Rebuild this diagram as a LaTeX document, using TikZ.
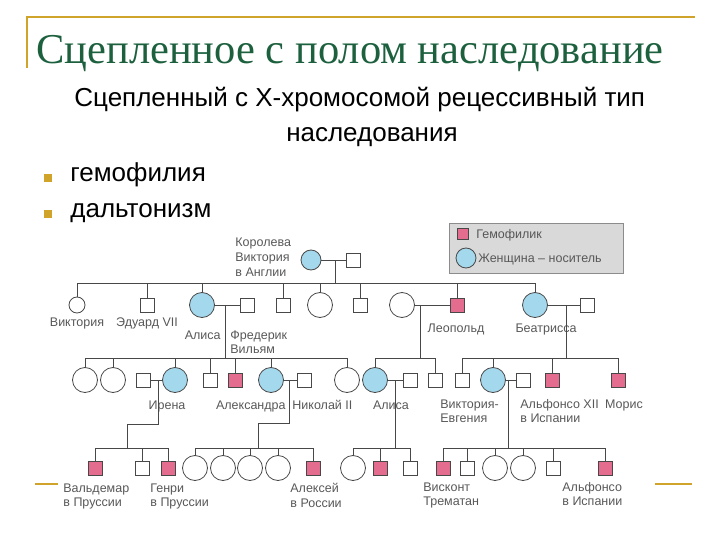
\documentclass[tikz,border=0pt]{standalone}
\usepackage{fontspec}
\setmainfont{Liberation Sans}
\newfontfamily\ttlfont{Liberation Serif}
\definecolor{ttl}{RGB}{28,96,62}
\definecolor{gold}{RGB}{208,164,42}
\definecolor{lin}{RGB}{72,72,72}
\definecolor{txt}{RGB}{88,88,88}
\definecolor{hem}{RGB}{228,108,142}
\definecolor{car}{RGB}{164,216,236}

\begin{document}
\begin{tikzpicture}[x=1pt,y=-1pt,line width=0.8pt,
  man/.style={draw=lin,fill=white,minimum size=14pt,inner sep=0pt},
  hemo/.style={man,fill=hem},
  woman/.style={circle,draw=lin,fill=white,minimum size=25pt,inner sep=0pt},
  carr/.style={woman,fill=car},
  lbl/.style={text=txt,font=\fontsize{12.5}{14.5}\selectfont,inner sep=0pt,align=left},
  big/.style={font=\fontsize{26}{35}\selectfont,inner sep=0pt,anchor=base west},
  rel/.style={draw=lin}]
\useasboundingbox (0,0) rectangle (720,540);
\draw[gold,line width=1.5pt] (27,68) -- (27,17) -- (695,17);
\draw[gold,line width=1.5pt] (35,484) -- (58,484);
\draw[gold,line width=1.5pt] (655,484) -- (692,484);

\node[anchor=base west,text=ttl,font=\ttlfont\fontsize{42.5}{42.5}\selectfont,inner sep=0pt] (title) at (36,64) {Сцепленное с полом наследование};
\node[big] (sub1) at (74,107) {Сцепленный с Х-хромосомой рецессивный тип};
\node[big,anchor=base] (sub2) at (372,142) {наследования};
\node[fill=gold,minimum size=8pt,inner sep=0pt] (bul1) at (48,178) {};
\node[big] (hemoph) at (70,182) {гемофилия};
\node[fill=gold,minimum size=8pt,inner sep=0pt] (bul2) at (48,214) {};
\node[big] (dalt) at (70,218) {дальтонизм};

\node[draw=black!45,fill=black!15,minimum width=174pt,minimum height=50pt,inner sep=0pt] (leg) at (536,248) {};
\node[hemo,minimum size=11pt] (leghem) at (463,234) {};
\node[lbl,anchor=west] (leghemt) at (476,235) {Гемофилик};
\node[carr,minimum size=20pt] (legcar) at (466,258) {};
\node[lbl,anchor=west] (legcart) at (478,259) {Женщина – носитель};

\node[carr,minimum size=20pt] (qv) at (311,260) {};
\node[man] (qa) at (353,260) {};
\node[lbl,anchor=north west] (qvt) at (235,238) {Королева\\Виктория\\в Англии};
\draw[rel] (qv) -- (qa);
\coordinate (m0) at (335,260);
\coordinate (s0) at (335,283);
\draw[rel] (m0) -- (s0);

\node[woman,minimum size=16pt] (vik) at (77,305) {};
\node[man] (edw) at (147,305) {};
\node[carr] (ali) at (202,305) {};
\node[man] (fri) at (247,305) {};
\node[man] (a4) at (283,305) {};
\node[woman] (a5) at (320,305) {};
\node[man] (a6) at (360,305) {};
\node[woman] (lw) at (402,305) {};
\node[hemo] (leo) at (457,305) {};
\node[carr] (bea) at (535,305) {};
\node[man] (bh) at (587,305) {};
\draw[rel] (vik.north |- s0) -- (bea.north |- s0);
\foreach \c in {vik,edw,ali,a4,a5,a6,leo,bea}
  \draw[rel] (\c.north |- s0) -- (\c.north);
\draw[rel] (ali) -- (fri);
\draw[rel] (lw) -- (leo);
\draw[rel] (bea) -- (bh);
\node[lbl,anchor=north] (vikt) at (77,317) {Виктория};
\node[lbl,anchor=north] (edwt) at (147,317) {Эдуард VII};
\node[lbl,anchor=north east] (alit) at (221,330) {Алиса};
\node[lbl,anchor=north west,font=\fontsize{12.5}{14}\selectfont] (frit) at (230,330) {Фредерик\\Вильям};
\node[lbl,anchor=north] (leot) at (456,323) {Леопольд};
\node[lbl,anchor=north] (beat) at (546,323) {Беатрисса};

\coordinate (m1) at (225,305);
\coordinate (s1) at (225,358);
\coordinate (m2) at (420,305);
\coordinate (s2) at (420,358);
\coordinate (m3) at (566,305);
\coordinate (s3) at (566,358);
\draw[rel] (m1) -- (s1);
\draw[rel] (m2) -- (s2);
\draw[rel] (m3) -- (s3);

\node[woman] (c1) at (85,380) {};
\node[woman] (c2) at (113,380) {};
\node[man] (ireh) at (143,380) {};
\node[carr] (ire) at (175,380) {};
\node[man] (c4) at (210,380) {};
\node[hemo] (c5) at (235,380) {};
\node[carr] (alx) at (271,380) {};
\node[man] (nik) at (304,380) {};
\node[woman] (c7) at (347,380) {};
\node[carr] (al2) at (375,380) {};
\node[man] (al2h) at (410,380) {};
\node[man] (l2) at (435,380) {};
\node[man] (b1) at (462,380) {};
\node[carr] (ve) at (493,380) {};
\node[man] (alf) at (523,380) {};
\node[hemo] (b3) at (552,380) {};
\node[hemo] (mor) at (618,380) {};
\draw[rel] (c1.north |- s1) -- (c7.north |- s1);
\foreach \c in {c1,c2,ire,c4,c5,alx,c7}
  \draw[rel] (\c.north |- s1) -- (\c.north);
\draw[rel] (al2.north |- s2) -- (l2.north |- s2);
\foreach \c in {al2,l2}
  \draw[rel] (\c.north |- s2) -- (\c.north);
\draw[rel] (b1.north |- s3) -- (mor.north |- s3);
\foreach \c in {b1,ve,b3,mor}
  \draw[rel] (\c.north |- s3) -- (\c.north);
\draw[rel] (ireh) -- (ire);
\draw[rel] (alx) -- (nik);
\draw[rel] (al2) -- (al2h);
\draw[rel] (ve) -- (alf);
\node[lbl,anchor=north] (iret) at (167,400) {Ирена};
\node[lbl,anchor=north east] (alxt) at (286,400) {Александра};
\node[lbl,anchor=north west] (nikt) at (292,400) {Николай II};
\node[lbl,anchor=north] (al2t) at (391,400) {Алиса};
\node[lbl,anchor=north west] (vet) at (440,399) {Виктория-\\Евгения};
\node[lbl,anchor=north west] (alft) at (520,399) {Альфонсо XII\\в Испании};
\node[lbl,anchor=north] (mort) at (624,399) {Морис};

\coordinate (m4) at (158,380);
\coordinate (s4) at (127,448);
\coordinate (m5) at (289,380);
\coordinate (s5) at (258,448);
\coordinate (m6) at (395,380);
\coordinate (s6) at (395,448);
\coordinate (m7) at (508,380);
\coordinate (s7) at (508,448);
\draw[rel] (m4) -- ++(0,44) -| (s4);
\draw[rel] (m5) -- ++(0,43) -| (s5);
\draw[rel] (m6) -- (s6);
\draw[rel] (m7) -- (s7);

\node[hemo] (wal) at (95,468) {};
\node[man] (i2) at (142,468) {};
\node[hemo] (gen) at (168,468) {};
\node[woman] (d1) at (195,468) {};
\node[woman] (d2) at (223,468) {};
\node[woman] (d3) at (250,468) {};
\node[woman] (d4) at (278,468) {};
\node[hemo] (alk) at (313,468) {};
\node[woman] (e1) at (353,468) {};
\node[hemo] (e2) at (380,468) {};
\node[man] (e3) at (410,468) {};
\node[hemo] (vis) at (443,468) {};
\node[man] (v2) at (467,468) {};
\node[woman] (v3) at (495,468) {};
\node[woman] (v4) at (523,468) {};
\node[man] (v5) at (553,468) {};
\node[hemo] (alf2) at (605,468) {};
\draw[rel] (wal.north |- s4) -- (gen.north |- s4);
\foreach \c in {wal,i2,gen}
  \draw[rel] (\c.north |- s4) -- (\c.north);
\draw[rel] (d1.north |- s5) -- (alk.north |- s5);
\foreach \c in {d1,d2,d3,d4,alk}
  \draw[rel] (\c.north |- s5) -- (\c.north);
\draw[rel] (e1.north |- s6) -- (e3.north |- s6);
\foreach \c in {e1,e2,e3}
  \draw[rel] (\c.north |- s6) -- (\c.north);
\draw[rel] (vis.north |- s7) -- (alf2.north |- s7);
\foreach \c in {vis,v2,v3,v4,v5,alf2}
  \draw[rel] (\c.north |- s7) -- (\c.north);
\node[lbl,anchor=north west] (walt) at (63,483) {Вальдемар\\в Пруссии};
\node[lbl,anchor=north west] (gent) at (150,483) {Генри\\в Пруссии};
\node[lbl,anchor=north west] (alkt) at (290,483) {Алексей\\в России};
\node[lbl,anchor=north west] (vist) at (423,482) {Висконт\\Трематан};
\node[lbl,anchor=north west] (alf2t) at (562,482) {Альфонсо\\в Испании};
\end{tikzpicture}
\end{document}
